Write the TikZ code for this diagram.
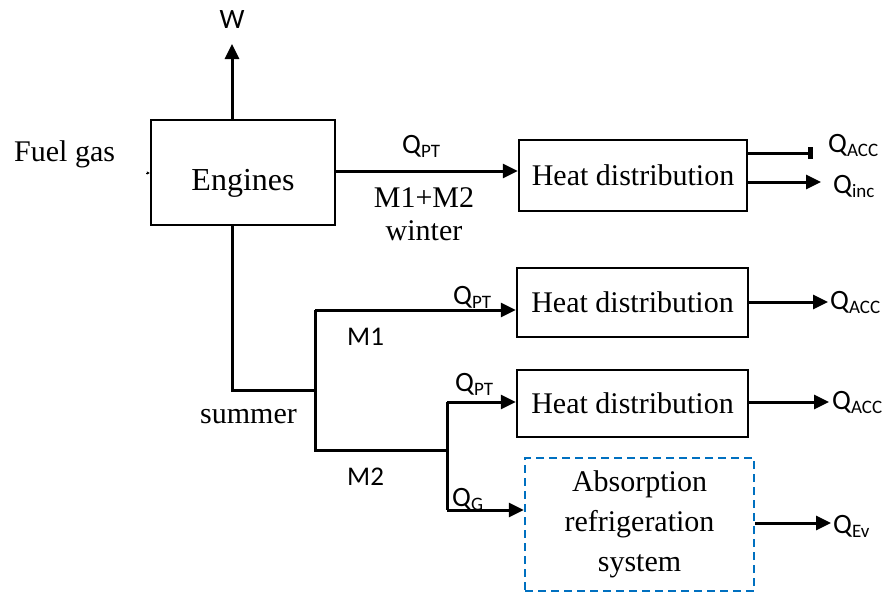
\documentclass[tikz,border=0pt]{standalone}
\usepackage{fontspec}
\setmainfont{Liberation Serif}
\newfontfamily\calfont{Carlito}
\usetikzlibrary{arrows.meta}
\definecolor{dashblue}{RGB}{0,112,192}
\newcommand\Qsub[1]{{\calfont\fontsize{28}{28}\selectfont Q\raisebox{-4pt}{\fontsize{19}{19}\selectfont #1}}}
\newcommand\serif{\fontsize{30}{40}\selectfont}
\newcommand\sans{\calfont\fontsize{27}{27}\selectfont}
\begin{document}
\begin{tikzpicture}[x=1pt,y=-1pt,
  box/.style={draw,line width=2.4pt,inner sep=0pt,align=center,font=\serif},
  dbox/.style={draw=dashblue,line width=2.4pt,dash pattern=on 8pt off 5pt,inner sep=0pt,align=center,font=\serif},
  flow/.style={line width=3pt},
  arr/.style={line width=3pt,-{Triangle[length=15pt,width=14pt]}},
  barr/.style={line width=3pt,-{Rectangle[length=5pt,width=12pt]}},
  lab/.style={inner sep=0pt,anchor=base west}]
\useasboundingbox (0,0) rectangle (886,595);
% boxes
\node[box,minimum width=184pt,minimum height=105pt] (eng) at (243,172.5) {};
\node[inner sep=0pt,anchor=base,font=\fontsize{32}{40}\selectfont] (engt) at (243,190) {Engines};
\node[box,minimum width=228pt,minimum height=71pt] (hd1) at (633,175.5) {Heat distribution};
\node[box,minimum width=231pt,minimum height=69pt] (hd2) at (632.5,302.5) {Heat distribution};
\node[box,minimum width=231pt,minimum height=67pt] (hd3) at (632.5,403.5) {Heat distribution};
\node[dbox,minimum width=229pt,minimum height=133pt] (ars) at (639.5,524.5) {Absorption\\refrigeration\\system};
% coordinates
\coordinate (wtop) at (232,44);
\coordinate (fuel) at (146,173);
\coordinate (ja) at (232,390);
\coordinate (jb) at (315,390);
\coordinate (m1) at (315,310);
\coordinate (m2) at (315,450);
\coordinate (jc) at (447,450);
\coordinate (pt2) at (447,402);
\coordinate (qg) at (447,510);
\coordinate (o1a) at (813,153);
\coordinate (o1b) at (821,182);
\coordinate (o2) at (828,302);
\coordinate (o3) at (829,402);
\coordinate (o4) at (831,523);
% connectors
\draw[arr] (wtop |- eng.north) -- (wtop);
\draw[line width=0.8pt,-{Triangle[length=3pt,width=3pt]}] (fuel) -- (eng.west |- fuel);
\draw[arr] (eng.east |- 0,171) -- (hd1.west |- 0,171);
\draw[barr] (hd1.east |- o1a) -- (o1a);
\draw[arr] (hd1.east |- o1b) -- (o1b);
\draw[flow] (ja |- eng.south) -- (ja) -- (jb);
\draw[flow] (m1) -- (m2) -- (jc);
\draw[arr] (m1) -- (hd2.west |- m1);
\draw[flow] (pt2) -- (qg);
\draw[arr] (pt2) -- (hd3.west |- pt2);
\draw[arr] (qg) -- (ars.west |- qg);
\draw[arr] (hd2.east |- o2) -- (o2);
\draw[arr] (hd3.east |- o3) -- (o3);
\draw[arr] (ars.east |- o4) -- (o4);
% labels
\node[inner sep=0pt,anchor=base,font=\calfont\fontsize{28}{28}\selectfont] (w) at (232,28) {W};
\node[inner sep=0pt,anchor=base west,font=\serif] (fg) at (14,161) {Fuel gas};
\node[lab] (qpt1) at (402,153) {\Qsub{PT}};
\node[inner sep=0pt,anchor=base,align=center,font=\fontsize{30}{33}\selectfont] (mw) at (424,240) {M1+M2\\winter};
\node[lab] (qacc1) at (828,152) {\Qsub{ACC}};
\node[lab] (qinc) at (833,193) {\Qsub{inc}};
\node[lab] (qpt2) at (453,304) {\Qsub{PT}};
\node[lab,font=\sans] (lm1) at (347,345) {M1};
\node[lab] (qpt3) at (455,391) {\Qsub{PT}};
\node[lab,font=\sans] (lm2) at (347,485) {M2};
\node[lab] (qgl) at (452,506) {\Qsub{G}};
\node[lab,font=\serif] (sum) at (200,423) {summer};
\node[lab] (qacc2) at (830,309) {\Qsub{ACC}};
\node[lab] (qacc3) at (832,409) {\Qsub{ACC}};
\node[lab] (qev) at (833,533) {\Qsub{Ev}};
\end{tikzpicture}
\end{document}
